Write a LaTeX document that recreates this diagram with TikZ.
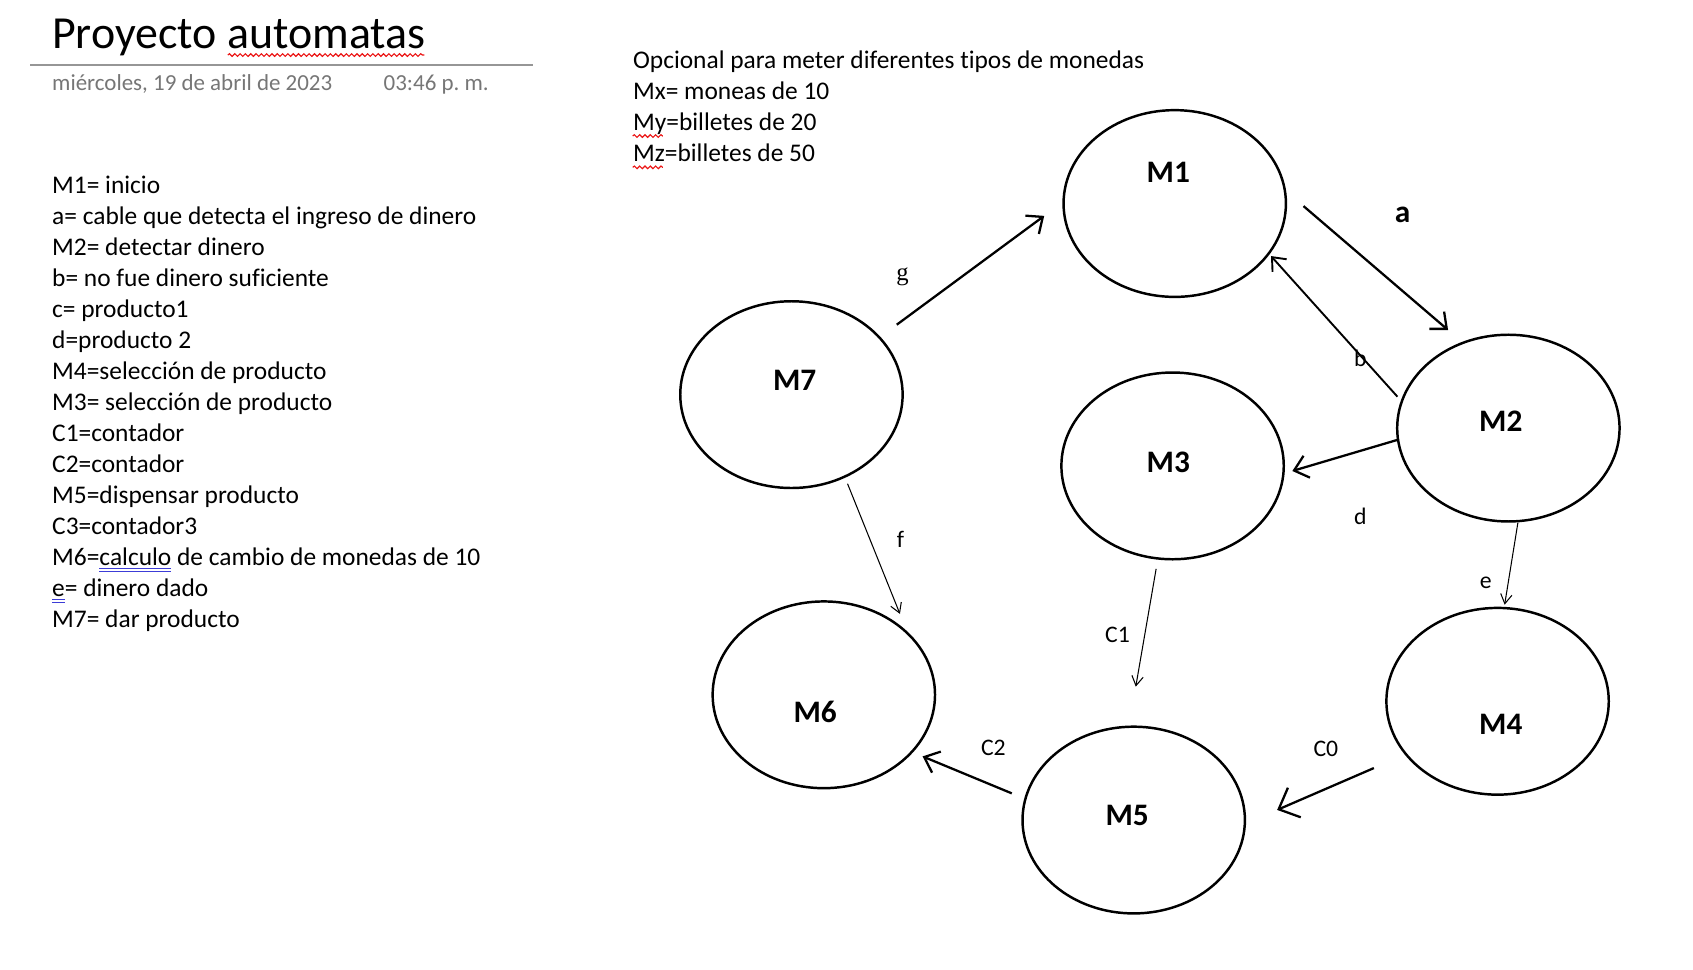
\documentclass[tikz,border=0pt]{standalone}
\usepackage{fontspec}
\setmainfont{Carlito}[Ligatures=NoCommon]
\newfontfamily\letrag{Liberation Serif}
\usetikzlibrary{arrows.meta,decorations.pathmorphing,shapes.geometric}

\definecolor{fechagris}{RGB}{118,118,118}
\definecolor{lineagris}{RGB}{150,150,150}
\definecolor{rojoorto}{RGB}{235,20,20}
\definecolor{azulnota}{RGB}{60,60,215}

\newsavebox\dulcaja
\newcommand\dul[1]{\sbox\dulcaja{#1}\rlap{\textcolor{azulnota}{\rule[-2.2pt]{\wd\dulcaja}{0.45pt}}}\rlap{\textcolor{azulnota}{\rule[-3.5pt]{\wd\dulcaja}{0.45pt}}}#1}

\tikzset{
  estado/.style={draw, ellipse, line width=1.3pt, minimum width=4.12cm, minimum height=3.46cm, inner sep=0pt, outer sep=0pt},
  nombre/.style={font=\fontsize{16.5}{19}\selectfont\bfseries, inner sep=0pt},
  texto/.style={font=\fontsize{13.4}{16}\selectfont, inner sep=0pt, anchor=base west},
  fecha/.style={texto, font=\fontsize{12.1}{15}\selectfont, text=fechagris},
  etiq/.style={font=\fontsize{12.5}{15}\selectfont, inner sep=0pt},
  gruesa/.style={line width=1.2pt, -{Straight Barb[length=7pt,width=12pt]}},
  media/.style={line width=1pt, -{Straight Barb[length=6pt,width=10pt]}},
  fina/.style={line width=0.55pt, -{Straight Barb[length=5pt,width=6pt]}},
  ortografia/.style={rojoorto, line width=0.6pt, decorate, decoration={snake, amplitude=0.7pt, segment length=2.8pt}}
}

\begin{document}
\begin{tikzpicture}[x=0.02cm, y=-0.02cm]
\useasboundingbox (0,0) rectangle (1568,898);

\node[texto, font=\fontsize{24.2}{29}\selectfont] (titulo) at (48,45) {Proyecto automatas};
\draw[ortografia] ([shift={(163,6)}]titulo.base west) -- ++(182,0);
\draw[lineagris, line width=0.8pt] (28,60) -- (494,60);
\node[fecha] (fecha) at (48,84) {miércoles, 19 de abril de 2023};
\node[fecha] (hora) at (355,84) {03:46 p.\ m.};

\foreach \t [count=\i] in {M1= inicio, a= cable que detecta el ingreso de dinero, M2= detectar dinero,
  b= no fue dinero suficiente, c= producto1, d=producto 2, M4=selección de producto,
  M3= selección de producto, C1=contador, C2=contador, M5=dispensar producto, C3=contador3,
  M6=\dul{calculo} de cambio de monedas de 10, \dul{e}= dinero dado, M7= dar producto}
  \node[texto] (izq\i) at (48,{179+28.7*(\i-1)}) {\t};

\foreach \t [count=\i] in {Opcional para meter diferentes tipos de monedas, Mx= moneas de 10,
  My=billetes de 20, Mz=billetes de 50}
  \node[texto] (der\i) at (586,{63+29*(\i-1)}) {\t};
\draw[ortografia] ([shift={(0,5)}]der3.base west) -- ++(28,0);
\draw[ortografia] ([shift={(0,5)}]der4.base west) -- ++(28,0);

\node[estado] (M1) at (1088,188.5) {};
\node[estado] (M7) at (733,365.5) {};
\node[estado] (M3) at (1086,431.5) {};
\node[estado] (M2) at (1397,396.5) {};
\node[estado] (M6) at (763,643.5) {};
\node[estado] (M4) at (1387,649.5) {};
\node[estado] (M5) at (1050,759.5) {};

\node[nombre] (nM1) at (1082,160) {M1};
\node[nombre] (nM7) at (736,352) {M7};
\node[nombre] (nM3) at (1082,428) {M3};
\node[nombre] (nM2) at (1390,390) {M2};
\node[nombre] (nM6) at (755,659) {M6};
\node[nombre] (nM4) at (1390,671) {M4};
\node[nombre] (nM5) at (1044,755) {M5};

\draw[gruesa, shorten <=0.40cm, shorten >=0.446cm] (M7.33.6) -- (M1.179.1);
\draw[gruesa, shorten <=0.458cm, shorten >=0.365cm] (M1.7.6) -- (M2.118.9);
\draw[media, shorten <=0.122cm, shorten >=0.064cm] (M2.166.4) -- (M1.332.8);
\draw[gruesa, shorten >=0.173cm] (M2.186.6) -- (M3.356.2);
\draw[fina, shorten <=0.03cm, shorten >=0.063cm] (M2.276.8) -- (M4.86.4);
\draw[fina, shorten <=0.195cm, shorten >=0.754cm] (M3.261.9) -- (M5.93.2);
\draw[fina, shorten <=0.142cm, shorten >=0.396cm] (M7.303.1) -- (M6.36.4);
\draw[gruesa, -{Straight Barb[length=9pt,width=17pt]}, shorten <=0.648cm, shorten >=0.653cm] (M4.210.7) -- (M5.358.2);
\draw[gruesa, shorten <=0.273cm, shorten >=0.216cm] (M5.169.2) -- (M6.327.5);

\node[etiq, font=\fontsize{13}{15}\letrag] (lg) at (836,256) {g};
\node[nombre] (la) at (1299,199) {a};
\node[etiq] (lb) at (1260,332) {b};
\node[etiq] (ld) at (1260,478) {d};
\node[etiq] (le) at (1376,540) {e};
\node[etiq] (lf) at (834,500) {f};
\node[etiq] (lC1) at (1035,588) {C1};
\node[etiq] (lC0) at (1228,694) {C0};
\node[etiq] (lC2) at (920,693) {C2};
\end{tikzpicture}
\end{document}
